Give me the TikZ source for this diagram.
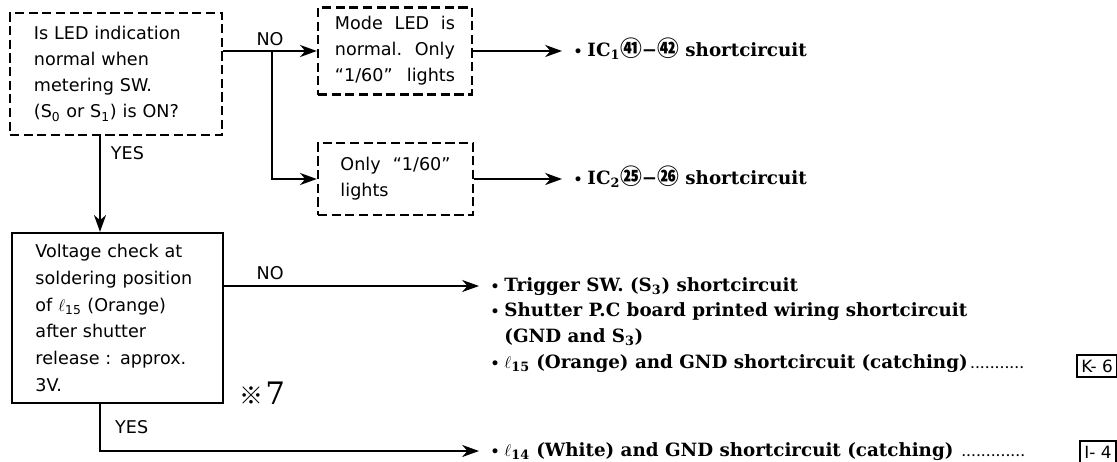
\documentclass[tikz,border=0pt]{standalone}
\usepackage{fontspec}
\setmainfont{DejaVu Serif}
\newfontfamily\boxfont{DejaVu Sans}
\newfontfamily\cjkfont{Noto Sans CJK JP}
\usetikzlibrary{positioning, arrows.meta, calc}
\newcommand{\circnum}[1]{{\cjkfont\fontsize{15.5}{15.5}\selectfont #1}}
\newcommand{\bul}{{\fontsize{10}{10}\selectfont •}\hspace{3.5pt}}
\newcommand{\dotlead}{\cleaders\hbox to 3.5pt{\hss{\fontsize{8}{8}\selectfont.}\hss}\hfill}
\newcommand{\widesp}{\spaceskip=.6em plus .1em\relax}

\begin{document}
\begin{tikzpicture}[x=0.025cm, y=-0.025cm,
  ask/.style={rectangle, draw, line width=1.6pt, dash pattern=on 6.5pt off 3.2pt, align=left, font=\boxfont\fontsize{12.5}{18.5}\selectfont\widesp, inner ysep=2pt},
  check/.style={rectangle, draw, line width=1.6pt, align=left, font=\boxfont\fontsize{12.5}{19}\selectfont\widesp, inner ysep=2pt},
  cause/.style={anchor=west, font=\bfseries\fontsize{13}{16}\selectfont, inner xsep=8pt, inner ysep=1pt, text height=1.9ex, text depth=.5ex},
  ref/.style={rectangle, draw, line width=1.6pt, font=\boxfont\fontsize{12}{12}\selectfont, inner xsep=3pt, inner ysep=1pt, minimum height=0.55cm},
  flow/.style={-{Stealth[length=4.2mm, width=3mm, inset=1.3mm]}, line width=1.6pt},
  yn/.style={font=\boxfont\fontsize{12.5}{14}\selectfont, inner sep=1pt}
]
\useasboundingbox (0,0) rectangle (1117,461);

% ===== Questions and checks =====
\node[ask, text width=4.1cm, inner xsep=0.6cm, minimum height=3.05cm] (led) at (116,74) {Is LED indication\\normal when\\metering SW.\\(S\textsubscript{0} or S\textsubscript{1}) is ON?};
\node[ask, text width=3.0cm, inner xsep=0.425cm, minimum height=2.175cm] (mode) at (395,51) {Mode\hfill LED\hfill is\\normal.\hfill Only\\“1/60”\hfill lights};
\node[ask, text width=2.75cm, inner xsep=0.5625cm, minimum height=1.8cm] (only) at (395.5,179) {Only\hfill “1/60”\\lights};
\node[check, text width=4.1cm, inner xsep=0.59cm, minimum height=4.25cm] (volt) at (117.5,318) {Voltage check at\\soldering position\\of $\ell$\textsubscript{15} (Orange)\\after shutter\\release : approx.\\3V.};
\node (note) at (262,393) {{\cjkfont\fontsize{17}{17}\selectfont ※}\,{\fontsize{22}{22}\selectfont 7}};

% ===== Causes =====
\node[cause] (ic1) at (562,51) {\bul IC\textsubscript{1}\circnum{㊶}−\circnum{㊷} shortcircuit};
\node[cause] (ic2) at (562,179) {\bul IC\textsubscript{2}\circnum{㉕}−\circnum{㉖} shortcircuit};
\node[cause] (trig) at (479,286) {\bul Trigger SW. (S\textsubscript{3}) shortcircuit};
\node[cause] (pcb) at (479,311) {\bul Shutter P.C board printed wiring shortcircuit};
\node[cause] (gnd) at (479,337) {\phantom{\bul}(GND and S\textsubscript{3})};
\node[cause] (orng) at (479,363) {\makebox[13.4cm][l]{\bul $\ell$\textsubscript{15} (Orange) and GND shortcircuit (catching)\dotlead}};
\node[cause] (wht) at (479,451) {\makebox[13.4cm][l]{\bul $\ell$\textsubscript{14} (White) and GND shortcircuit (catching) \dotlead}};
\node[ref] (k6) at (1097,366) {K- 6};
\node[ref] (i4) at (1098,452) {I- 4};

% ===== Links =====
\coordinate (split) at (272,0);
\coordinate (down) at (100,0);
\draw[flow] (led.east |- mode.west) -- node[yn, above=2pt, pos=0.5] (no1) {NO} (mode.west);
\draw[flow] (split |- mode.west) |- (only.west);
\draw[flow] (mode.east) -- (ic1.west);
\draw[flow] (only.east) -- (ic2.west);
\draw[flow] (down |- led.south) -- node[yn, anchor=west, pos=0.18, xshift=6pt] (yes1) {YES} (down |- volt.north);
\draw[flow] (volt.east |- trig.west) -- node[yn, above=3pt, pos=0.18] (no2) {NO} (trig.west);
\draw[flow] (down |- volt.south) |- node[yn, anchor=west, pos=0.25, xshift=9pt] (yes2) {YES} (wht.west);

\end{tikzpicture}
\end{document}
